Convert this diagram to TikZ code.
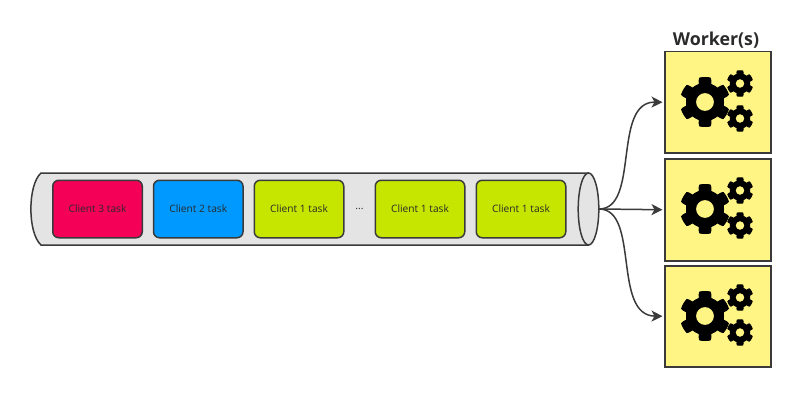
\documentclass[tikz,border=0pt]{standalone}
\usepackage{fontspec}
\setmainfont{Open Sans}
\usetikzlibrary{arrows.meta}
\definecolor{ink}{HTML}{3A3A3A}
\definecolor{labelink}{HTML}{2A2A2A}
\definecolor{tube}{HTML}{E4E4E4}
\definecolor{cpink}{HTML}{F50057}
\definecolor{cblue}{HTML}{0099FF}
\definecolor{cgreen}{HTML}{C6E600}
\definecolor{cyellow}{HTML}{FFF585}
\tikzset{
  x=1pt,y=-1pt,
  line/.style={draw=ink,line width=1.5pt},
  task/.style={line,rounded corners=6pt,minimum width=89.5pt,minimum height=57.5pt,inner sep=0pt,anchor=center,font=\fontsize{10.2}{12}\selectfont,text=labelink},
  workerbox/.style={draw=ink,line width=1.5pt,fill=cyellow,minimum width=106pt,inner sep=0pt,anchor=north west},
  flow/.style={draw=ink,line width=1.5pt,-{Stealth[length=11pt,width=11pt,inset=3pt]}},
  gear/.pic={
    \fill[black,even odd rule,draw=black,line width=1pt,line join=round]
      plot[samples=145,domain=0:360,smooth] (\x:{(0.74+0.24*min(1,max(0,(cos(6*(\x-90))+0.3)*2.2)))*\pgfkeysvalueof{/tikz/gear r}})
      -- cycle
      (0,0) circle[radius={0.38*\pgfkeysvalueof{/tikz/gear r}}];
  },
  gear r/.initial=25,
}
\begin{document}
\begin{tikzpicture}
\useasboundingbox (0,0) rectangle (800,417);
% tube
\draw[line,fill=tube] (589,173) -- (41,173) .. controls (27.5,185) and (27.5,233) .. (41,245) -- (589,245);
\draw[line,fill=tube] (588.5,209) ellipse[x radius=10.3,y radius=36];
\coordinate (tubeend) at (599,209);
% tasks
\node[task,fill=cpink] (t3) at (97.5,209) {Client 3 task};
\node[task,fill=cblue] (t2) at (198.25,209) {Client 2 task};
\node[task,fill=cgreen] (t1a) at (299,209) {Client 1 task};
\node[font=\fontsize{10.2}{12}\selectfont,text=labelink] (dots) at (359.5,209) {...};
\node[task,fill=cgreen] (t1b) at (420,209) {Client 1 task};
\node[task,fill=cgreen] (t1c) at (521,209) {Client 1 task};
% workers
\node[workerbox,minimum height=101pt] (w1) at (664,51) {};
\node[workerbox,minimum height=102pt] (w2) at (664,158) {};
\node[workerbox,minimum height=101pt] (w3) at (664,265) {};
\node[font=\bfseries\fontsize{17.8}{22}\selectfont,text=labelink,anchor=south,inner sep=0pt] (title) at (716,48.5) {Worker(s)};
% gears
\foreach \dy in {0,107,214}{
  \pic[gear r=25] at (705,102+\dy) {gear};
  \pic[gear r=13] at (740,83.5+\dy) {gear};
  \pic[gear r=13] at (740,118.5+\dy) {gear};
}
% connectors
\coordinate (a1) at (w1.west);
\coordinate (a2) at (w2.west);
\coordinate (a3) at (w3.west);
\draw[flow,shorten >=1.5pt] (tubeend) .. controls (640,209) and (612,101.5) .. (a1);
\draw[flow,shorten >=1.5pt] (tubeend) -- (a2);
\draw[flow,shorten >=1.5pt] (tubeend) .. controls (640,209) and (612,315.5) .. (a3);
\end{tikzpicture}
\end{document}
